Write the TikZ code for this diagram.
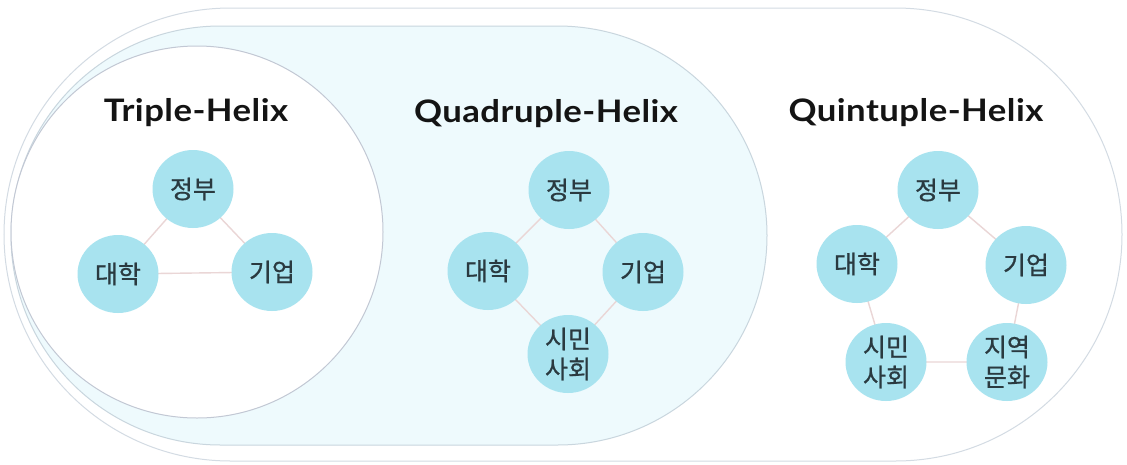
\documentclass[tikz,border=0pt]{standalone}
\usepackage{fontspec}
\usetikzlibrary{shapes.geometric}
\newfontfamily\titlefont{Lato}[FakeStretch=1.12,LetterSpace=1.5]
\newfontfamily\kr{Noto Sans CJK KR}[FakeBold=0.8]
\definecolor{pillline}{HTML}{D3DBE3}
\definecolor{quadfill}{HTML}{EEFAFD}
\definecolor{quadline}{HTML}{C9D6DE}
\definecolor{triline}{HTML}{C2C8D4}
\definecolor{actorfill}{HTML}{A8E3EF}
\definecolor{linkline}{HTML}{EAD6D6}
\definecolor{labeltext}{HTML}{2A3A40}
\pgfdeclarelayer{shapes}
\pgfdeclarelayer{links}
\pgfsetlayers{shapes,links,main}
\begin{document}
\begin{tikzpicture}[x=1pt,y=-1pt,
  actor/.style={ellipse,fill=actorfill,minimum width=81pt,minimum height=78pt,inner sep=0pt,
    font=\kr\fontsize{25}{30}\selectfont,text=labeltext,align=center},
  title/.style={font=\titlefont\bfseries\fontsize{31}{33}\selectfont,text=black!92},
  link/.style={draw=linkline,line width=1.4pt}]
\useasboundingbox (0,0) rectangle (1127,464);

% outer pill (quintuple), inner pill (quadruple), circle (triple)
\begin{pgfonlayer}{shapes}
\fill[white] (0,0) rectangle (1127,464);
\draw[pillline,line width=1pt,fill=white,rounded corners=226.5pt] (4,8) rectangle (1122,461);
\draw[quadline,line width=1pt,fill=quadfill,rounded corners=209.5pt] (11,26) rectangle (767,445);
\draw[triline,line width=1pt,fill=white] (197,232) circle[radius=186];
\end{pgfonlayer}

% titles
\node[title] (t3) at (196,113) {Triple-Helix};
\node[title] (t4) at (546,114) {Quadruple-Helix};
\node[title] (t5) at (916,113) {Quintuple-Helix};

% triple helix
\node[actor] (a1) at (193,189) {정부};
\node[actor] (a2) at (118,274) {대학};
\node[actor] (a3) at (272,272) {기업};

% quadruple helix
\node[actor] (b1) at (569,190) {정부};
\node[actor] (b2) at (488,271) {대학};
\node[actor] (b3) at (643,272) {기업};
\node[actor] (b4) at (568,354) {시민\\사회};

% quintuple helix
\node[actor] (c1) at (938,190) {정부};
\node[actor] (c2) at (857,264) {대학};
\node[actor] (c3) at (1026,265) {기업};
\node[actor] (c4) at (886,362) {시민\\사회};
\node[actor] (c5) at (1007,362) {지역\\문화};

% links drawn beneath the actor circles
\begin{pgfonlayer}{links}
\draw[link] (a1.center) -- (a2.center) -- (a3.center) -- cycle;
\draw[link] (b1.center) -- (b3.center) -- (b4.center) -- (b2.center) -- cycle;
\draw[link] (c1.center) -- (c3.center) -- (c5.center) -- (c4.center) -- (c2.center) -- cycle;
\end{pgfonlayer}
\end{tikzpicture}
\end{document}
